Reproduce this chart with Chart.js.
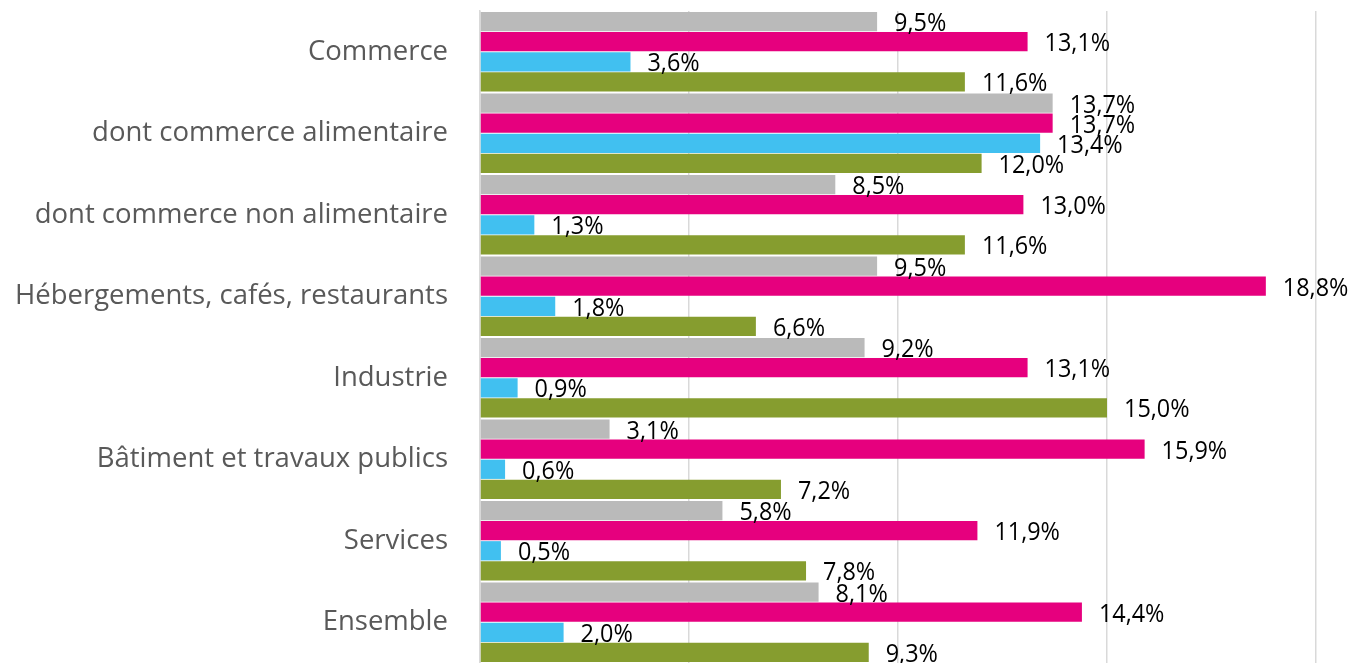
<!DOCTYPE html>
<html>
<head>
<meta charset="utf-8">
<script src="https://cdn.jsdelivr.net/npm/chart.js@4"></script>
<style>
  html, body { margin: 0; padding: 0; background: #fff; }
  #wrap { width: 1351px; height: 663px; }
</style>
</head>
<body>
<div id="wrap"><canvas id="chart" width="1351" height="663"></canvas></div>
<script>
const categories = [
    'Commerce',
    'dont commerce alimentaire',
    'dont commerce non alimentaire',
    'Hébergements, cafés, restaurants',
    'Industrie',
    'Bâtiment et travaux publics',
    'Services',
    'Ensemble'
];
const serieGris    = [9.5, 13.7, 8.5, 9.5, 9.2, 3.1, 5.8, 8.1];
const serieMagenta = [13.1, 13.7, 13.0, 18.8, 13.1, 15.9, 11.9, 14.4];
const serieBleu    = [3.6, 13.4, 1.3, 1.8, 0.9, 0.6, 0.5, 2.0];
const serieVert    = [11.6, 12.0, 11.6, 6.6, 15.0, 7.2, 7.8, 9.3];

// étiquettes de valeur au bout des barres (police un peu resserrée)
const labelPlugin = {
    id: 'valueLabels',
    afterDatasetsDraw(chart) {
        const ctx = chart.ctx;
        chart.data.datasets.forEach((ds, i) => {
            const meta = chart.getDatasetMeta(i);
            meta.data.forEach((bar, j) => {
                const txt = ds.data[j].toFixed(1).replace('.', ',') + '%';
                ctx.save();
                ctx.font = '26px "Open Sans", sans-serif';
                ctx.fillStyle = '#000';
                ctx.textAlign = 'left';
                ctx.textBaseline = 'middle';
                ctx.translate(bar.x + 17, bar.y + 2);
                ctx.scale(0.9, 1);
                ctx.fillText(txt, 0, 0);
                ctx.restore();
            });
        });
    }
};

const graph = new Chart(document.getElementById('chart'), {
    type: 'bar',
    data: {
        labels: categories,
        datasets: [
            { data: serieGris, backgroundColor: '#BABABA' },
            { data: serieMagenta, backgroundColor: '#E6007E' },
            { data: serieBleu, backgroundColor: '#41C0F0' },
            { data: serieVert, backgroundColor: '#869D2F' }
        ]
    },
    options: {
        indexAxis: 'y',
        responsive: false,
        maintainAspectRatio: false,
        animation: false,
        layout: { padding: { top: 11, right: 35, bottom: 0, left: 0 } },
        datasets: {
            bar: { barPercentage: 0.96, categoryPercentage: 0.985, borderWidth: 0 }
        },
        plugins: {
            legend: { display: false },
            tooltip: { enabled: false }
        },
        scales: {
            x: {
                min: 0,
                max: 20,
                ticks: { display: false, stepSize: 5 },
                grid: { color: '#D9D9D9', lineWidth: 1.5, drawTicks: false },
                border: { display: false },
                afterFit(scale) { scale.height = 0; scale.paddingLeft = 0; scale.paddingRight = 0; }
            },
            y: {
                afterFit(scale) {
                    scale.width = 480;
                    scale.paddingTop = 0;
                    scale.paddingBottom = 0;
                },
                ticks: {
                    color: '#595959',
                    padding: 32,
                    font: { family: '"Open Sans", sans-serif', size: 27.5 }
                },
                grid: { display: false, drawTicks: false },
                border: { display: true, color: '#D9D9D9', width: 1.5 }
            }
        }
    },
    plugins: [labelPlugin]
});
</script>
</body>
</html>
